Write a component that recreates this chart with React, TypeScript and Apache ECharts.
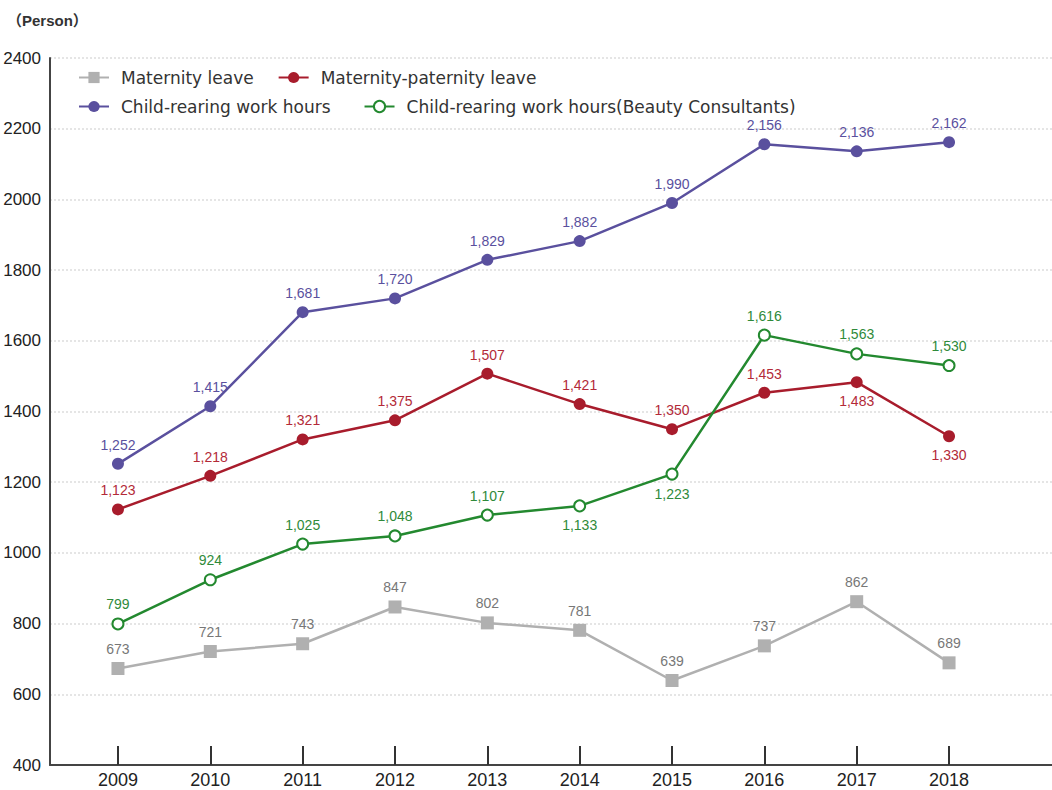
import React, { useEffect, useRef } from "react";
import * as echarts from "echarts";

const years = [2009, 2010, 2011, 2012, 2013, 2014, 2015, 2016, 2017, 2018];
const maternityLeave = [673, 721, 743, 847, 802, 781, 639, 737, 862, 689];
const maternityPaternity = [1123, 1218, 1321, 1375, 1507, 1421, 1350, 1453, 1483, 1330];
const childRearing = [1252, 1415, 1681, 1720, 1829, 1882, 1990, 2156, 2136, 2162];
const beautyConsultants = [799, 924, 1025, 1048, 1107, 1133, 1223, 1616, 1563, 1530];
const yTicks = [400, 600, 800, 1000, 1200, 1400, 1600, 1800, 2000, 2200, 2400];

// years whose label sits below the point
const belowRed = [2017, 2018];
const belowGreen = [2014, 2015];

const fmt = (v: number) => v.toLocaleString("en-US");

function buildData(values: number[], below: number[]) {
  return values.map((v, i) => {
    const item: any = { value: [years[i], v] };
    if (below.includes(years[i])) item.label = { position: "bottom" };
    return item;
  });
}

export default function App() {
  const ref = useRef<HTMLDivElement>(null);
  useEffect(() => {
    document.body.style.margin = "0";
    const chart = echarts.init(ref.current!, null, { renderer: "svg" });
    const font = "'Liberation Sans', Arial, sans-serif";
    const legendFont = "'DejaVu Sans', sans-serif";
    const mkSeries = (
      name: string,
      values: number[],
      color: string,
      labelColor: string,
      symbol: string,
      size: number,
      below: number[]
    ) => ({
      name,
      type: "line",
      data: buildData(values, below),
      symbol,
      symbolSize: size,
      lineStyle: { color, width: 2.5 },
      itemStyle: { color, borderColor: color, borderWidth: symbol === "emptyCircle" ? 1.8 : 0 },
      label: {
        show: true,
        position: "top",
        distance: 6,
        color: labelColor,
        fontSize: 14,
        fontFamily: font,
        formatter: (p: any) => fmt(p.value[1]),
      },
      emphasis: { disabled: true },
    });
    const legendCommon = {
      left: 73,
      itemWidth: 30,
      itemHeight: 14,
      textStyle: { fontSize: 17, color: "#333", fontFamily: legendFont, padding: [0, 0, 0, 7] },
    };
    chart.setOption({
      animation: false,
      backgroundColor: "#fff",
      title: {
        text: "（Person）",
        left: 2,
        top: 8,
        textStyle: {
          fontSize: 15,
          fontWeight: "bold",
          color: "#333",
          fontFamily: "'Liberation Sans', 'Noto Sans CJK JP', sans-serif",
        },
      },
      legend: [
        { ...legendCommon, itemGap: 24, data: ["Maternity leave", "Maternity-paternity leave"], top: 64 },
        {
          ...legendCommon,
          itemGap: 33,
          data: ["Child-rearing work hours", "Child-rearing work hours(Beauty Consultants)"],
          top: 93,
        },
      ],
      grid: { left: 50, right: 0, top: 58, bottom: 25, containLabel: false },
      xAxis: {
        type: "value",
        min: 2008.264,
        max: 2019.115,
        axisLine: { show: true, lineStyle: { color: "#444", width: 2 } },
        axisTick: {
          show: true,
          inside: true,
          length: 19,
          customValues: years,
          lineStyle: { color: "#333", width: 2 },
        },
        axisLabel: {
          customValues: years,
          formatter: (v: number) => String(v),
          fontSize: 18,
          color: "#222",
          margin: 6,
          fontFamily: font,
        },
        splitLine: { show: false },
      },
      yAxis: {
        type: "value",
        min: yTicks[0],
        max: yTicks[yTicks.length - 1],
        interval: 200,
        axisLine: { show: true, lineStyle: { color: "#444", width: 2 } },
        axisTick: { show: false },
        axisLabel: {
          fontSize: 17,
          color: "#222",
          margin: 9,
          fontFamily: font,
          formatter: (v: number) => String(v),
        },
        splitLine: { show: true, lineStyle: { color: "#ddd", type: [2, 2], width: 1.5 } },
      },
      series: [
        mkSeries("Maternity leave", maternityLeave, "#b0b0b0", "#777", "rect", 13, []),
        mkSeries("Maternity-paternity leave", maternityPaternity, "#a81c2c", "#b32a38", "circle", 12, belowRed),
        mkSeries("Child-rearing work hours", childRearing, "#5a509e", "#5a509e", "circle", 12, []),
        mkSeries(
          "Child-rearing work hours(Beauty Consultants)",
          beautyConsultants,
          "#23892f",
          "#2f8a3a",
          "emptyCircle",
          11,
          belowGreen
        ),
      ],
    });
    return () => chart.dispose();
  }, []);
  return <div ref={ref} style={{ width: 1052, height: 790 }} />;
}
